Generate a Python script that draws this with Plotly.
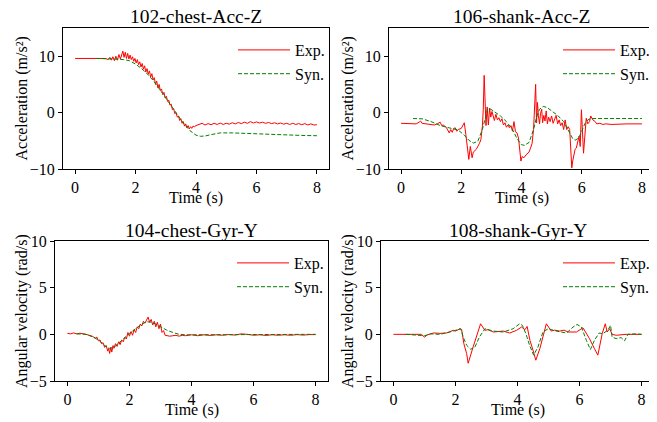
import plotly.graph_objects as go

# 102-chest-Acc-Z
t_102_exp = [0.0, 0.3, 0.6, 0.9, 1.0, 1.1, 1.15, 1.2, 1.25, 1.3, 1.35, 1.4, 1.45, 1.5, 1.55, 1.58, 1.62, 1.66,
             1.7, 1.74, 1.78, 1.82, 1.86, 1.9, 1.94, 1.98, 2.02, 2.06, 2.1, 2.14, 2.18, 2.22, 2.26, 2.3, 2.34,
             2.38, 2.42, 2.46, 2.5, 2.54, 2.58, 2.62, 2.66, 2.7, 2.74, 2.78, 2.82, 2.86, 2.9, 2.94, 2.98, 3.02,
             3.06, 3.1, 3.14, 3.18, 3.22, 3.26, 3.3, 3.34, 3.38, 3.42, 3.46, 3.5, 3.54, 3.58, 3.62, 3.66, 3.7,
             3.74, 3.78, 3.82, 3.86, 3.9, 3.95, 4.0, 4.1, 4.2, 4.3, 4.4, 4.5, 4.6, 4.7, 4.8, 4.9, 5.0, 5.1, 5.2,
             5.3, 5.4, 5.5, 5.6, 5.7, 5.8, 5.9, 6.0, 6.1, 6.2, 6.3, 6.4, 6.5, 6.6, 6.7, 6.8, 6.9, 7.0, 7.1, 7.2,
             7.3, 7.4, 7.5, 7.6, 7.7, 7.8, 7.9, 8.0]
acc_102_exp = [9.6, 9.6, 9.55, 9.5, 9.6, 9.4, 9.8, 9.3, 9.9, 9.2, 10.0, 9.3, 10.3, 9.5, 10.6, 10.9, 9.8, 10.7,
               9.6, 10.5, 9.5, 10.2, 9.4, 9.9, 9.1, 9.6, 8.8, 9.4, 8.5, 9.0, 8.1, 8.7, 7.7, 8.3, 7.2,
               7.8, 6.8, 7.4, 6.3, 6.9, 5.8, 6.2, 5.0, 5.6, 4.4, 5.0, 3.9, 4.2, 3.2, 3.6, 2.6, 2.9,
               2.0, 2.2, 1.3, 1.5, 0.5, 0.7, -0.2, 0.0, -0.8, -0.6, -1.4, -1.1, -1.9, -1.6, -2.4, -2.0, -2.7,
               -2.3, -2.9, -2.5, -2.8, -2.4, -2.5, -2.3, -2.1, -1.9, -2.2, -1.95, -2.15, -1.9, -2.1, -1.85, -2.1,
               -1.9, -2.05, -1.8, -2.0, -1.75, -1.95, -1.7, -1.9, -1.6, -1.85, -1.65, -1.85, -1.7, -1.9, -1.75,
               -1.95, -1.8, -2.0, -1.85, -2.05, -1.9, -2.1, -1.9, -2.1, -1.95, -2.15, -1.95, -2.2, -2.0, -2.2, -2.15]
t_102_syn = [0.7, 1.0, 1.3, 1.6, 1.8, 2.0, 2.2, 2.4, 2.6, 2.8, 3.0, 3.2, 3.4, 3.6, 3.8, 4.0, 4.15, 4.3, 4.5,
             4.8, 5.2, 5.6, 6.0, 6.5, 7.0, 7.5, 8.0]
acc_102_syn = [9.6, 9.6, 9.5, 9.4, 9.2, 8.6, 7.8, 6.8, 5.6, 4.1, 2.6, 1.0, -0.6, -2.0, -3.2, -4.0, -4.2, -4.15,
               -3.9, -3.6, -3.6, -3.7, -3.8, -3.9, -4.0, -4.05, -4.1]

# 106-shank-Acc-Z
t_106_exp = [0.0, 0.3, 0.5, 0.6, 0.65, 0.7, 0.8, 0.9, 1.0, 1.1, 1.2, 1.3, 1.35, 1.4, 1.5, 1.55, 1.6, 1.65, 1.7,
             1.75, 1.8, 1.85, 1.9, 2.0, 2.05, 2.1, 2.15, 2.2, 2.25, 2.3, 2.33, 2.36, 2.4, 2.5, 2.6, 2.65, 2.7,
             2.73, 2.76, 2.79, 2.82, 2.86, 2.9, 2.94, 2.98, 3.02, 3.06, 3.1, 3.15, 3.2, 3.25, 3.3, 3.35, 3.4,
             3.45, 3.5, 3.55, 3.6, 3.65, 3.7, 3.75, 3.8, 3.85, 3.9, 3.95, 3.98, 4.02, 4.08, 4.15, 4.25, 4.3,
             4.35, 4.4, 4.44, 4.47, 4.5, 4.53, 4.56, 4.6, 4.63, 4.67, 4.7, 4.74, 4.78, 4.82, 4.86, 4.9, 4.95,
             5.0, 5.05, 5.1, 5.15, 5.2, 5.25, 5.3, 5.35, 5.4, 5.45, 5.5, 5.55, 5.6, 5.64, 5.67, 5.7, 5.74,
             5.78, 5.82, 5.86, 5.91, 5.95, 5.99, 6.06, 6.15, 6.2, 6.26, 6.3, 6.37, 6.45, 6.5, 6.6, 6.7, 6.8,
             7.0, 7.5, 8.0]
acc_106_exp = [-1.9, -1.9, -2.0, -1.7, -1.5, -1.9, -2.0, -2.0, -2.1, -2.2, -2.0, -1.7, -2.3, -2.2, -2.6, -3.0,
               -3.6, -3.0, -3.5, -2.8, -2.7, -3.3, -3.0, -2.8, -2.3, -1.8, -3.8, -6.5, -8.3, -6.0, -7.2, -8.0,
               -7.0, -6.5, -5.5, -4.8, -2.5, 0.5, 6.6, -0.5, -2.3, 1.0, -2.2, 0.8, -0.8, 0.2, -0.4, -1.4,
               -0.3, -1.3, -0.9, -1.6, -1.1, -2.2, -1.8, -2.6, -2.2, -2.7, -2.3, -3.3, -1.6, -3.4, -3.6, -4.5,
               -7.0, -8.6, -7.8, -8.0, -7.5, -7.0, -6.3, -5.5, -3.0, 1.0, 5.0, -1.8, 1.8, -0.5, -2.0, -0.2,
               0.6, -1.8, -0.5, -1.5, 0.3, -2.0, -0.8, -1.6, -0.6, -1.9, -1.2, -0.5, -2.0, -1.3, -2.3, -1.8,
               -3.0, -1.3, -3.0, -2.5, -3.0, -6.0, -9.8, -8.6, -7.5, -6.5, -6.3, -5.2, -4.2, -6.0, 0.5, -7.2,
               -1.0, -2.0, -1.6, -0.6, -1.3, -1.6, -2.0, -1.9, -2.1, -2.0, -2.1, -2.0, -2.0, -2.0]
t_106_syn = [0.4, 0.7, 1.0, 1.3, 1.6, 1.9, 2.1, 2.25, 2.4, 2.55, 2.7, 2.8, 2.88, 2.98, 3.1, 3.3, 3.5, 3.7,
             3.85, 4.0, 4.1, 4.25, 4.4, 4.5, 4.6, 4.72, 4.85, 5.0, 5.2, 5.4, 5.55, 5.7, 5.78, 5.9, 6.0, 6.1,
             6.2, 6.3, 6.5, 7.0, 8.0]
acc_106_syn = [-1.05, -1.1, -1.6, -2.3, -2.7, -3.1, -4.0, -4.9, -5.4, -5.1, -3.0, -0.8, 0.7, 0.6, 0.2, -0.6,
               -1.6, -3.0, -4.6, -5.7, -5.8, -5.3, -3.0, -0.8, 0.6, 1.1, 0.9, 0.3, -0.5, -1.6, -3.0, -4.6,
               -4.9, -4.5, -3.3, -2.0, -1.3, -1.05, -1.05, -1.05, -1.05]

# 104-chest-Gyr-Y
t_104_exp = [0.0, 0.1, 0.2, 0.3, 0.4, 0.5, 0.6, 0.7, 0.8, 0.9, 0.95, 1.0, 1.05, 1.1, 1.15, 1.2, 1.25, 1.3,
             1.33, 1.36, 1.4, 1.43, 1.47, 1.5, 1.55, 1.6, 1.65, 1.7, 1.75, 1.8, 1.85, 1.9, 1.95, 2.0, 2.05,
             2.1, 2.15, 2.2, 2.25, 2.3, 2.35, 2.4, 2.45, 2.5, 2.55, 2.6, 2.65, 2.7, 2.75, 2.8, 2.85, 2.9, 2.95,
             3.0, 3.05, 3.1, 3.15, 3.2, 3.3, 3.4, 3.5, 3.6, 3.7, 3.8, 4.0, 4.2, 4.4, 4.6, 4.8, 5.0, 5.2, 5.4,
             5.6, 5.8, 6.0, 6.2, 6.4, 6.6, 6.8, 7.0, 7.2, 7.4, 7.6, 7.8, 8.0]
gyr_104_exp = [0.1, 0.05, 0.15, 0.05, 0.12, 0.1, 0.0, -0.1, -0.2, -0.4, -0.3, -0.7, -0.6, -1.0, -0.9, -1.4,
               -1.2, -1.8, -1.5, -2.05, -1.4, -1.9, -1.2, -1.5, -1.0, -1.3, -0.8, -1.1, -0.6, -0.8, -0.3, -0.5,
               0.2, -0.2, 0.3, -0.1, 0.5, 0.2, 0.8, 0.6, 1.1, 0.9, 1.4, 1.2, 1.6, 1.85, 1.3, 1.6, 1.0, 1.4, 0.8,
               1.3, 0.6, 1.1, 0.2, 0.4, -0.1, -0.15, -0.2, -0.15, -0.1, -0.2, -0.1, -0.15, -0.05, -0.15, -0.05,
               -0.12, -0.05, -0.1, -0.02, -0.08, 0.05, 0.0, -0.1, -0.05, -0.12, -0.05, -0.1, -0.05, -0.1, -0.03,
               -0.08, -0.03, -0.03]
t_104_syn = [0.3, 0.6, 0.8, 1.0, 1.2, 1.35, 1.5, 1.65, 1.8, 2.0, 2.2, 2.4, 2.55, 2.7, 2.85, 3.0, 3.2, 3.4,
             3.6, 3.8, 4.0, 5.0, 6.0, 7.0, 8.0]
gyr_104_syn = [0.05, 0.0, -0.25, -0.6, -1.2, -1.5, -1.4, -1.0, -0.5, 0.1, 0.6, 1.1, 1.35, 1.3, 1.1, 0.8,
               0.45, 0.2, 0.0, -0.05, -0.05, -0.05, -0.05, -0.05, 0.0]

# 108-shank-Gyr-Y
t_108_exp = [0.0, 0.5, 0.8, 0.9, 1.0, 1.1, 1.3, 1.5, 1.72, 1.93, 2.0, 2.15, 2.2, 2.27, 2.36, 2.41, 2.57, 2.81,
             2.95, 3.05, 3.22, 3.4, 3.54, 3.75, 3.97, 4.13, 4.24, 4.31, 4.4, 4.5, 4.59, 4.72, 4.93, 5.09, 5.2,
             5.36, 5.5, 5.63, 5.9, 6.11, 6.32, 6.48, 6.59, 6.73, 6.83, 6.89, 6.97, 7.05, 7.18, 7.5, 7.93, 8.0]
gyr_108_exp = [0.0, 0.0, 0.05, 0.0, -0.3, -0.05, 0.15, 0.1, 0.15, 0.43, 0.35, 0.6, 0.5, -1.0, -2.05, -3.1,
               -1.35, 1.13, 0.43, 0.5, 0.25, 0.3, 0.35, 0.14, 0.43, 0.78, 0.5, 0.85, -0.64, -1.7, -2.77, -1.53,
               1.13, 0.35, 0.45, 0.35, 0.45, 0.25, 0.25, 0.7, -0.46, -1.53, -2.23, 0.07, 1.13, 0.25, 0.6, 0.0,
               -0.1, 0.0, 0.0, 0.0]
t_108_syn = [0.4, 0.8, 1.0, 1.2, 1.5, 1.82, 2.09, 2.17, 2.25, 2.36, 2.49, 2.63, 2.77, 2.95, 3.22, 3.54, 3.86,
             4.07, 4.16, 4.27, 4.39, 4.52, 4.66, 4.82, 4.99, 5.25, 5.58, 5.79, 5.92, 6.06, 6.22, 6.35, 6.48,
             6.63, 6.75, 6.91, 7.0, 7.05, 7.18, 7.34, 7.45, 7.56, 7.8, 8.0]
gyr_108_syn = [0.0, -0.05, -0.15, 0.05, 0.0, 0.25, 0.5, 0.6, -0.3, -1.17, -1.6, -1.35, -0.3, 0.6, 0.35, 0.25,
               0.6, 1.13, 0.96, 0.07, -1.17, -2.23, -1.35, 0.25, 0.6, 0.35, 0.14, 0.78, 1.06, 0.78, -0.64,
               -1.63, -0.64, 0.14, 0.07, 0.43, 0.96, -0.3, -0.46, -0.35, -0.7, 0.0, 0.05, 0.0]

titles = ["102-chest-Acc-Z", "106-shank-Acc-Z", "104-chest-Gyr-Y", "108-shank-Gyr-Y"]
ylabels = ["Acceleration (m/s²)", "Acceleration (m/s²)", "Angular velocity (rad/s)", "Angular velocity (rad/s)"]

panels = [(t_102_exp, acc_102_exp, t_102_syn, acc_102_syn),
          (t_106_exp, acc_106_exp, t_106_syn, acc_106_syn),
          (t_104_exp, gyr_104_exp, t_104_syn, gyr_104_syn),
          (t_108_exp, gyr_108_exp, t_108_syn, gyr_108_syn)]

# the page body has an 8px margin, so work in window pixels and shift back
OFF = 8
W, H = 657 - OFF, 422 - OFF
# axes boxes in window pixels: left, right, top, bottom
boxes = [(63, 329, 28, 169), (389, 654, 28, 169), (55, 328, 241, 381), (381, 654, 241, 381)]
yranges = [[-10, 15], [-10, 15], [-5, 10], [-5, 10]]
ydticks = [10, 10, 5, 5]

FONT = "Liberation Serif"
FS = 16
fig = go.Figure()
layout = dict(width=W, height=H, margin=dict(l=0, r=0, t=0, b=0),
              plot_bgcolor="white", paper_bgcolor="white",
              font=dict(family=FONT, size=FS, color="black"), annotations=[])


def px(x):
    return (x - OFF) / W


def py(y):
    return 1 - (y - OFF) / H


for i, (te, ve, ts, vs) in enumerate(panels):
    n = "" if i == 0 else str(i + 1)
    leg = "legend" + n
    fig.add_trace(go.Scatter(x=te, y=ve, mode="lines", name="Exp.", xaxis="x" + n, yaxis="y" + n,
                             line=dict(color="#ff0000", width=1), legend=leg))
    fig.add_trace(go.Scatter(x=ts, y=vs, mode="lines", name="Syn.", xaxis="x" + n, yaxis="y" + n,
                             line=dict(color="#008000", width=1, dash="4px,2px"), legend=leg))
    l, r, t, b = boxes[i]
    xd = [px(l), px(r)]
    yd = [py(b), py(t)]
    axstyle = dict(showline=True, linecolor="black", linewidth=1, mirror=True, ticks="outside",
                   ticklen=4, tickwidth=1, tickcolor="black", showgrid=False, zeroline=False,
                   automargin=False, tickfont=dict(family=FONT, size=FS))
    layout["xaxis" + n] = dict(domain=xd, range=[-0.4, 8.4], dtick=2, tick0=0, anchor="y" + n, **axstyle)
    layout["yaxis" + n] = dict(domain=yd, range=yranges[i], dtick=ydticks[i], tick0=0, anchor="x" + n,
                               **axstyle)
    layout[leg] = dict(x=px(r - 96), y=py(t + 5), xanchor="left", yanchor="top",
                       itemwidth=52, bgcolor="rgba(0,0,0,0)", font=dict(family=FONT, size=FS),
                       tracegroupgap=0)
    common = dict(xref="paper", yref="paper", showarrow=False)
    layout["annotations"] += [
        dict(text=titles[i], x=(xd[0] + xd[1]) / 2, y=py(t - 11), xanchor="center", yanchor="middle",
             font=dict(family=FONT, size=19.5), **common),
        dict(text="Time (s)", x=(xd[0] + xd[1]) / 2, y=py(b + 29), xanchor="center", yanchor="middle",
             font=dict(family=FONT, size=FS), **common),
        dict(text=ylabels[i], x=px(l - 41 if i < 2 else l - 33), y=(yd[0] + yd[1]) / 2, textangle=-90,
             xanchor="center", yanchor="middle", font=dict(family=FONT, size=FS), **common),
    ]

fig.update_layout(**layout)
fig.write_html("out.html")
